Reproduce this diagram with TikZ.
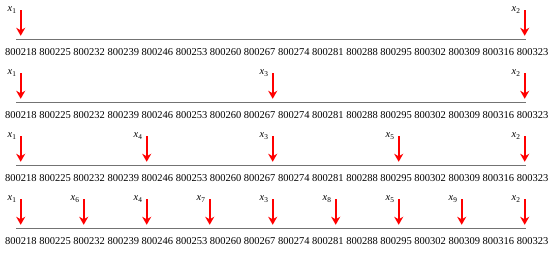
\documentclass[tikz,border=0pt]{standalone}
\usepackage{fontspec}
\setmainfont{Liberation Serif}
\usetikzlibrary{arrows.meta}
\begin{document}
\begin{tikzpicture}[x=1pt,y=-1pt,
  axisline/.style={draw=black!55, line width=1.2pt},
  marker/.style={draw=red, line width=1.6pt, -{Stealth[length=8pt,width=9pt,inset=2.5pt]}},
  ticklabel/.style={font=\fontsize{10.5}{12}\selectfont, inner sep=0pt, anchor=base},
  varlabel/.style={font=\fontsize{10.5}{12}\selectfont, inner sep=0pt, anchor=base east},
]
\useasboundingbox (0,0) rectangle (550,254);
\foreach \r/\spec in {0/{0/1,8/2},1/{0/1,4/3,8/2},2/{0/1,2/4,4/3,6/5,8/2},3/{0/1,1/6,2/4,3/7,4/3,5/8,6/5,7/9,8/2}}{
  \pgfmathsetmacro\ly{39.3+63*\r}
  \coordinate (L\r s) at (16,\ly);
  \coordinate (L\r e) at (526,\ly);
  \draw[axisline] (L\r s) -- (L\r e);
  \foreach \k in {0,...,15}{
    \pgfmathtruncatemacro\num{218+7*\k}
    \node[ticklabel] (n\r-\k) at ({21+34.1*\k},{\ly+16.5}) {800\num};
  }
  \foreach \p/\i in \spec{
    \pgfmathsetmacro\ax{20.7+63*\p}
    \coordinate (a\r-\i t) at (\ax,{\ly-29});
    \coordinate (a\r-\i h) at (\ax,{\ly-3.5});
    \draw[marker] (a\r-\i t) -- (a\r-\i h);
    \node[varlabel] (v\r-\i) at ({\ax-4},{\ly-27.6}) {\textit{x}\textsubscript{\i}};
  }
}
\end{tikzpicture}
\end{document}
